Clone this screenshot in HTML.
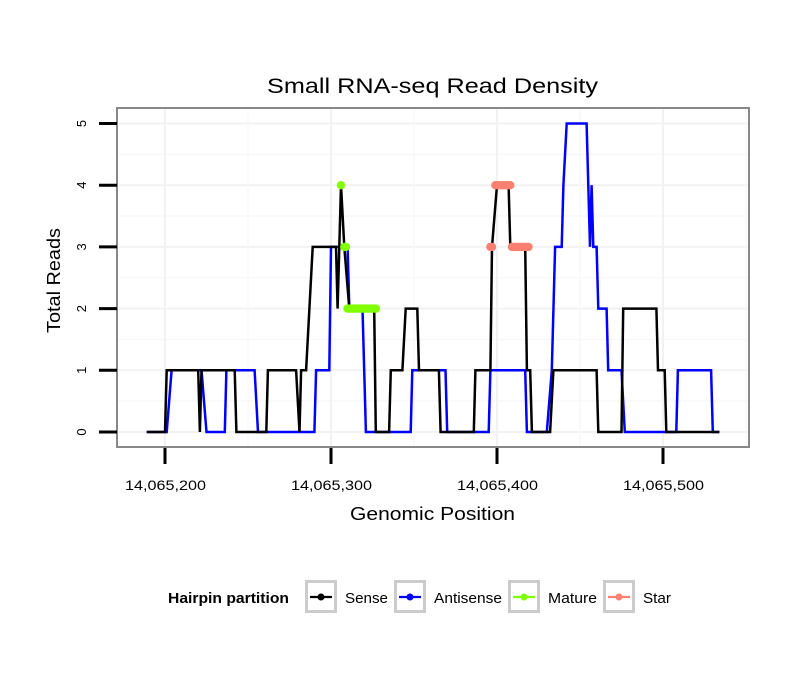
<!DOCTYPE html>
<html><head><meta charset="utf-8"><style>
body{margin:0;background:#fff;font-family:"Liberation Sans",sans-serif}
svg text{font-family:"Liberation Sans",sans-serif}
</style></head><body>
<svg id="chart" width="810" height="690" xmlns="http://www.w3.org/2000/svg">
<rect width="810" height="690" fill="#fff"/>
<text x="267" y="93" font-size="21" textLength="331" lengthAdjust="spacingAndGlyphs">Small RNA-seq Read Density</text>
<g id="grid"></g>
<g id="series"></g>
<rect x="117" y="108" width="632" height="339" fill="none" stroke="#888" stroke-width="2"/>
<g id="axes"></g>
<text x="350" y="520" font-size="18" textLength="165" lengthAdjust="spacingAndGlyphs">Genomic Position</text>
<text transform="translate(60,333) rotate(-90)" font-size="18" textLength="105" lengthAdjust="spacingAndGlyphs">Total Reads</text>
<g>
<text x="168" y="603" font-size="15" font-weight="bold" textLength="121" lengthAdjust="spacingAndGlyphs">Hairpin partition</text>
<g id="legend"></g>
</g>
</svg>
<script>
const BASE = 14065200;
const xTicks = [14065200, 14065300, 14065400, 14065500];
const xTickLabels = ["14,065,200", "14,065,300", "14,065,400", "14,065,500"];
const yTicks = [0, 1, 2, 3, 4, 5];
// offsets from BASE and read counts
const sensePos = [-11,0,1,20,21,22,42,43,61,62,79,81,82,85,87,89,103,104,106,108,111,126,127,135,136,143,145,152,153,165,166,186,187,196,197,200,207,208,217,218,220,221,232,234,260,261,275,276,296,297,301,302,334];
const senseVal = [0,0,1,1,0,1,1,0,0,1,1,0,1,1,2,3,3,2,4,3,2,2,0,0,1,1,2,2,1,1,0,0,1,1,3,4,4,3,3,1,1,0,0,1,1,0,0,2,2,1,1,0,0];
const antiPos = [-11,1,4,22,25,36,37,54,56,90,91,99,100,110,111,119,121,148,149,169,170,195,196,217,218,230,233,235,239,240,242,254,256,257,258,260,261,266,267,275,277,308,309,329,330,334];
const antiVal = [0,0,1,1,0,0,1,1,0,0,1,1,3,3,2,2,0,0,1,1,0,0,1,1,0,0,1,3,3,4,5,5,3,4,3,3,2,2,1,1,0,0,1,1,0,0];
const maturePos = [106,108,109,110,111,112,113,114,115,116,117,118,119,120,121,122,123,124,125,126,127];
const matureVal = [4,3,3,2,2,2,2,2,2,2,2,2,2,2,2,2,2,2,2,2,2];
const starPos = [196,197,199,200,201,202,203,204,205,206,207,208,209,210,211,212,213,214,215,216,217,218,219];
const starVal = [3,3,4,4,4,4,4,4,4,4,4,4,3,3,3,3,3,3,3,3,3,3,3];

const NS="http://www.w3.org/2000/svg";
const xs = p => 165 + (p - BASE) * 1.66;
const ys = v => 432 - v * 61.7;
function mk(tag, attrs, parent){const e=document.createElementNS(NS,tag);for(const k in attrs)e.setAttribute(k,attrs[k]);parent.appendChild(e);return e;}
const grid=document.getElementById('grid'), axes=document.getElementById('axes'), ser=document.getElementById('series');
mk('rect',{x:117,y:108,width:632,height:339,fill:'#fff'},grid);
for(let v=-0.5; v<=5.5; v+=0.5){const y=ys(v); if(y<109||y>446)continue;
 const l=mk('line',{x1:118,x2:748,y1:y,y2:y,stroke:v%1===0?'#f2f2f2':'#f8f8f8','stroke-width':v%1===0?2:1.5},grid);
 
 }
for(let p=BASE-50; p<=BASE+350; p+=50){const x=xs(p); if(x<118||x>748)continue;
 const l=mk('line',{x1:x,x2:x,y1:109,y2:446,stroke:(p-BASE)%100===0?'#f2f2f2':'#f8f8f8','stroke-width':(p-BASE)%100===0?2:1.5},grid);
 
 }
yTicks.forEach(v=>{const y=ys(v);
 const t=mk('line',{x1:99,x2:117,y1:y,y2:y,stroke:'#000','stroke-width':3},axes);
 
 
 const tx=mk('text',{transform:`translate(86,${y}) rotate(-90)`,'text-anchor':'middle','font-size':13},axes);
 tx.textContent=v;
 
 });
xTicks.forEach((p,i)=>{const x=xs(p);
 const t=mk('line',{x1:x,x2:x,y1:448,y2:464,stroke:'#000','stroke-width':3},axes);
 
 
 const tx=mk('text',{x:x-40,y:490,'font-size':14,textLength:81,lengthAdjust:'spacingAndGlyphs'},axes);
 tx.textContent=xTickLabels[i];
 
 });
function line(pos,val,color,name){
 const pts=pos.map((p,i)=>xs(BASE+p).toFixed(1)+','+ys(val[i]).toFixed(1)).join(' ');
 const l=mk('polyline',{points:pts,fill:'none',stroke:color,'stroke-width':2.5,'stroke-linejoin':'miter'},ser);
 
 }
function dots(pos,val,color,name){
 pos.forEach((p,i)=>{const c=mk('circle',{cx:xs(BASE+p),cy:ys(val[i]),r:4.2,fill:color},ser);
 
 });}
line(antiPos,antiVal,'#0000ff','antisense-line');
line(sensePos,senseVal,'#000','sense-line');
dots(maturePos,matureVal,'#80ff00','mature-point');
dots(starPos,starVal,'#fa8072','star-point');
const leg=document.getElementById('legend');
const items=[['Sense','#000',305,345,43],['Antisense','#0000ff',394,434,68],['Mature','#80ff00',508,548,49],['Star','#fa8072',603,643,28]];
items.forEach(([lab,col,bx,tx,tw])=>{
 const b=mk('rect',{x:bx+1.5,y:581.5,width:29,height:30,fill:'#fff',stroke:'#cccccc','stroke-width':3},leg);
 
 
 mk('line',{x1:bx+5,x2:bx+27,y1:597,y2:597,stroke:col,'stroke-width':2.3},leg);
 mk('circle',{cx:bx+16,cy:597,r:3.5,fill:col},leg);
 const t=mk('text',{x:tx,y:603,'font-size':15,textLength:tw,lengthAdjust:'spacingAndGlyphs'},leg);
 t.textContent=lab;
 
 });
</script>
</body></html>
